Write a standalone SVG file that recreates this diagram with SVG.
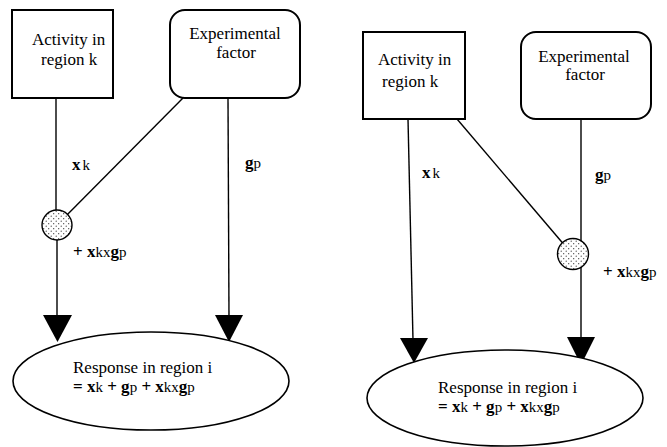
<svg xmlns="http://www.w3.org/2000/svg" width="667" height="447" viewBox="0 0 667 447" font-family="'Liberation Serif', 'DejaVu Serif', serif">
<style>
.box{fill:#fff;stroke:#000;stroke-width:2}
.ell{fill:#fff;stroke:#000;stroke-width:1.6}
.ln{stroke:#000;stroke-width:1.4;fill:none}
.arr{fill:#000;stroke:none}
.dot{fill:url(#stip);stroke:#000;stroke-width:1.4}
text{font-family:'Liberation Serif','DejaVu Serif',serif;font-size:17px;fill:#000}
.b{font-weight:bold}
.s{font-size:15px}
.m{text-anchor:middle}
</style>
<defs>
<pattern id="stip" width="5" height="5" patternUnits="userSpaceOnUse">
<rect width="5" height="5" fill="#fff"/>
<circle cx="1.2" cy="1.2" r="0.6" fill="#333"/>
<circle cx="3.7" cy="3.7" r="0.6" fill="#333"/>
</pattern>
</defs>
<g id="connectors">
<line class="ln" x1="56" y1="98" x2="56" y2="225"/>
<line class="ln" x1="183" y1="98" x2="57" y2="225"/>
<line class="ln" x1="57" y1="225" x2="57" y2="318"/>
<polygon class="arr" points="43,315 72,315 57.5,342"/>
<line class="ln" x1="228" y1="98" x2="229" y2="318"/>
<polygon class="arr" points="215,315 243,315 229,342"/>
<line class="ln" x1="408" y1="119" x2="413" y2="340"/>
<polygon class="arr" points="400,338 428,338 414,363"/>
<line class="ln" x1="457" y1="119" x2="572" y2="254"/>
<line class="ln" x1="581" y1="119" x2="581" y2="340"/>
<polygon class="arr" points="567,337 595,337 581,365"/>
</g>
<g id="left-activity">
<rect class="box" x="12" y="10" width="101" height="88"/>
<text x="32" y="45">Activity in</text>
<text x="41" y="65">region k</text>
</g>
<g id="left-factor">
<rect class="box" x="170" y="10" width="130" height="88" rx="15"/>
<text class="m" x="235" y="39">Experimental</text>
<text class="m" x="236" y="58">factor</text>
</g>
<g id="left-mult">
<circle class="dot" cx="57" cy="225" r="15"/>
</g>
<g id="left-labels">
<text x="72" y="170"><tspan class="b">x</tspan><tspan class="s" dx="2">k</tspan></text>
<text x="245" y="168"><tspan class="b">g</tspan><tspan class="s">p</tspan></text>
<text x="73" y="257"><tspan class="b">+ x</tspan><tspan class="s">k</tspan><tspan class="s">x</tspan><tspan class="b">g</tspan><tspan class="s">p</tspan></text>
</g>
<g id="left-response">
<ellipse class="ell" cx="151" cy="381" rx="138" ry="49"/>
<text x="73" y="373">Response in region i</text>
<text x="73" y="392"><tspan class="b">= x</tspan><tspan class="s">k</tspan><tspan class="b"> + g</tspan><tspan class="s">p</tspan><tspan class="b"> + x</tspan><tspan class="s">k</tspan><tspan class="s">x</tspan><tspan class="b">g</tspan><tspan class="s">p</tspan></text>
</g>
<g id="right-activity">
<rect class="box" x="363" y="32" width="102" height="87"/>
<text x="378" y="65">Activity in</text>
<text x="382" y="87">region k</text>
</g>
<g id="right-factor">
<rect class="box" x="521" y="32" width="130" height="87" rx="15"/>
<text class="m" x="584" y="62">Experimental</text>
<text class="m" x="585" y="80">factor</text>
</g>
<g id="right-mult">
<circle class="dot" cx="573" cy="254" r="15.5"/>
</g>
<g id="right-labels">
<text x="422" y="178"><tspan class="b">x</tspan><tspan class="s" dx="2">k</tspan></text>
<text x="595" y="180"><tspan class="b">g</tspan><tspan class="s">p</tspan></text>
<text x="603" y="277"><tspan class="b">+ x</tspan><tspan class="s">k</tspan><tspan class="s">x</tspan><tspan class="b">g</tspan><tspan class="s">p</tspan></text>
</g>
<g id="right-response">
<ellipse class="ell" cx="505" cy="398" rx="138" ry="48"/>
<text x="438" y="393">Response in region i</text>
<text x="438" y="412"><tspan class="b">= x</tspan><tspan class="s">k</tspan><tspan class="b"> + g</tspan><tspan class="s">p</tspan><tspan class="b"> + x</tspan><tspan class="s">k</tspan><tspan class="s">x</tspan><tspan class="b">g</tspan><tspan class="s">p</tspan></text>
</g>
</svg>
